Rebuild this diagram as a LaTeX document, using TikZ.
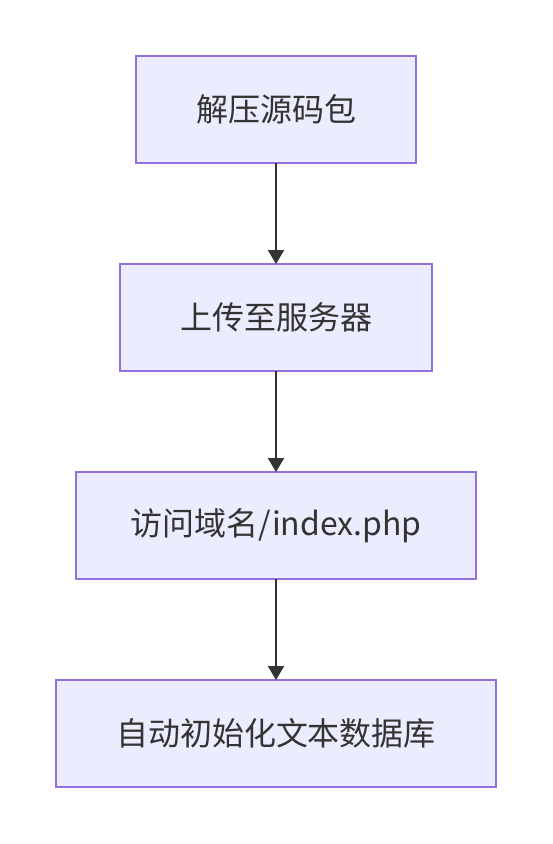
\documentclass[tikz,border=0pt]{standalone}
\usepackage{fontspec}
\setmainfont{Noto Sans CJK SC}
\usetikzlibrary{positioning,arrows.meta}
\definecolor{boxFill}{HTML}{ECECFF}
\definecolor{boxLine}{HTML}{9370DB}
\definecolor{lineGray}{HTML}{333333}

\begin{document}
\begin{tikzpicture}[
    x=1pt, y=1pt,
    node/.style={%
      draw=boxLine,
      fill=boxFill,
      line width=1.5pt,
      rectangle,
      outer sep=0pt,
      minimum height=107pt,
      text=lineGray,
      font=\fontsize{32}{38}\selectfont,
    },
    link/.style={%
      draw=lineGray,
      line width=2pt,
      -{Triangle[length=14pt,width=16pt]},
    },
  ]

    \useasboundingbox (0,0) rectangle (552,-844);

    \node [node, minimum width=280pt] (unpack) at (276,-109.5) {解压源码包};
    \node [node, minimum width=312pt, below=101pt of unpack] (upload) {上传至服务器};
    \node [node, minimum width=400pt, below=101pt of upload] (visit) {访问域名/index.php};
    \node [node, minimum width=440pt, below=101pt of visit] (initdb) {自动初始化文本数据库};

    \draw [link] (unpack) -- (upload);
    \draw [link] (upload) -- (visit);
    \draw [link] (visit) -- (initdb);
\end{tikzpicture}
\end{document}
